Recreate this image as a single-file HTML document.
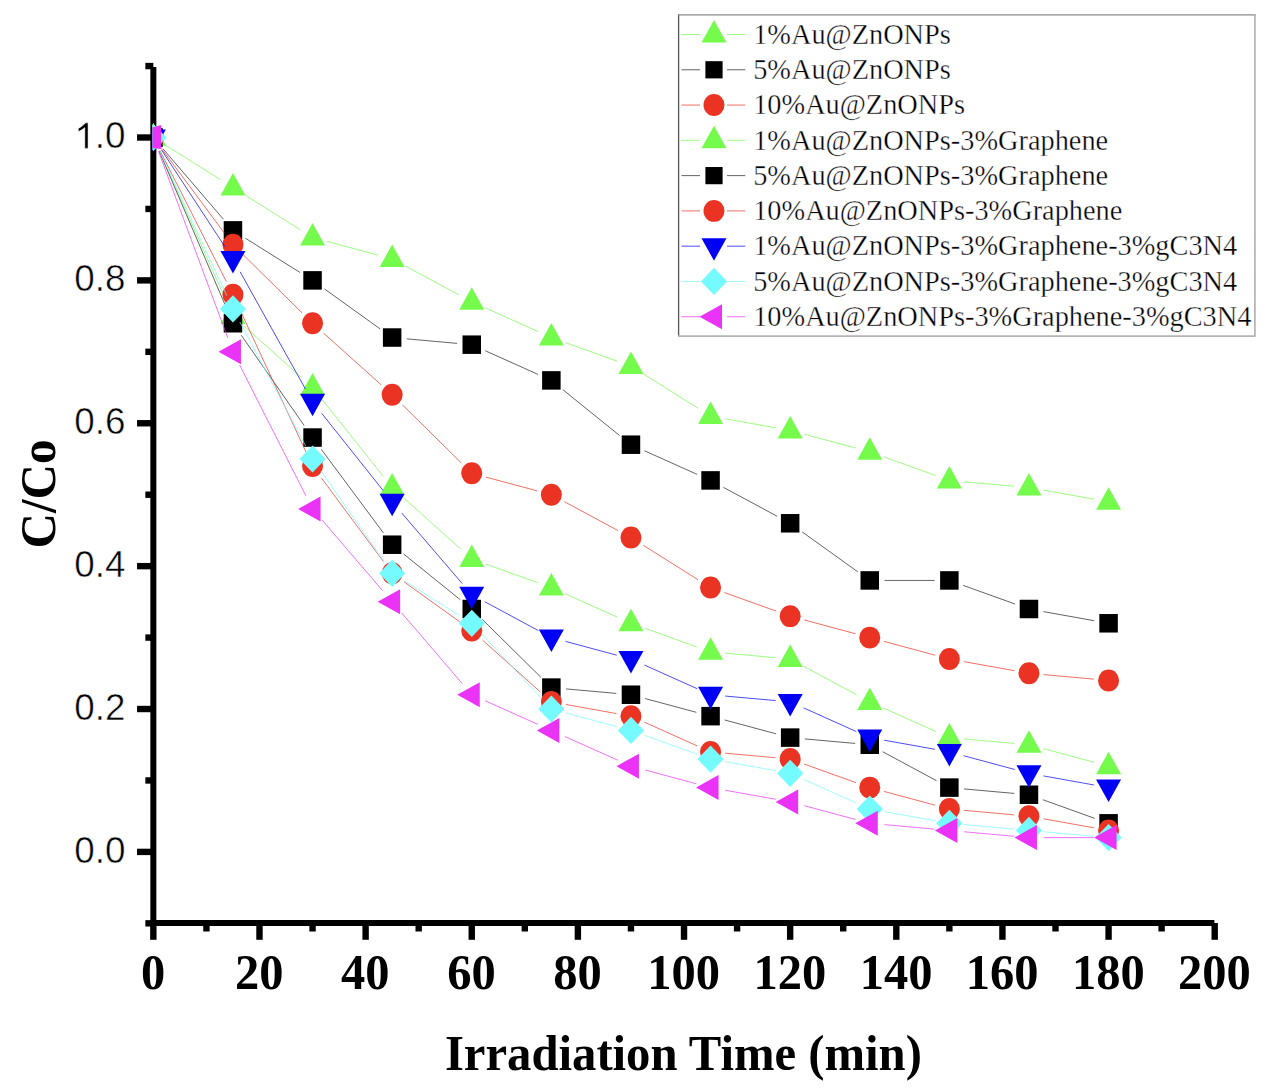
<!DOCTYPE html>
<html><head><meta charset="utf-8"><style>
html,body{margin:0;padding:0;background:#fff;}
svg{display:block;}
text{fill:#000;}
</style></head><body>
<svg width="1274" height="1090" viewBox="0 0 1274 1090">
<defs><clipPath id="clip"><rect x="152.4" y="60" width="1070" height="870"/></clipPath></defs>
<line x1="153.35" y1="67" x2="153.35" y2="926" stroke="#000" stroke-width="6"/>
<line x1="150.35" y1="923.0" x2="1214.4" y2="923.0" stroke="#000" stroke-width="6"/>
<line x1="145.35" y1="923.34" x2="153.35" y2="923.34" stroke="#000" stroke-width="6.4"/>
<line x1="137.05" y1="851.9" x2="153.35" y2="851.9" stroke="#000" stroke-width="6.4"/>
<line x1="145.35" y1="780.46" x2="153.35" y2="780.46" stroke="#000" stroke-width="6.4"/>
<line x1="137.05" y1="709.02" x2="153.35" y2="709.02" stroke="#000" stroke-width="6.4"/>
<line x1="145.35" y1="637.58" x2="153.35" y2="637.58" stroke="#000" stroke-width="6.4"/>
<line x1="137.05" y1="566.14" x2="153.35" y2="566.14" stroke="#000" stroke-width="6.4"/>
<line x1="145.35" y1="494.7" x2="153.35" y2="494.7" stroke="#000" stroke-width="6.4"/>
<line x1="137.05" y1="423.26" x2="153.35" y2="423.26" stroke="#000" stroke-width="6.4"/>
<line x1="145.35" y1="351.82" x2="153.35" y2="351.82" stroke="#000" stroke-width="6.4"/>
<line x1="137.05" y1="280.38" x2="153.35" y2="280.38" stroke="#000" stroke-width="6.4"/>
<line x1="145.35" y1="208.94" x2="153.35" y2="208.94" stroke="#000" stroke-width="6.4"/>
<line x1="137.05" y1="137.5" x2="153.35" y2="137.5" stroke="#000" stroke-width="6.4"/>
<line x1="145.35" y1="66.06" x2="153.35" y2="66.06" stroke="#000" stroke-width="6.4"/>
<line x1="153.35" y1="923.0" x2="153.35" y2="939.8" stroke="#000" stroke-width="6.4"/>
<line x1="206.42" y1="923.0" x2="206.42" y2="931.5" stroke="#000" stroke-width="6.4"/>
<line x1="259.49" y1="923.0" x2="259.49" y2="939.8" stroke="#000" stroke-width="6.4"/>
<line x1="312.55" y1="923.0" x2="312.55" y2="931.5" stroke="#000" stroke-width="6.4"/>
<line x1="365.62" y1="923.0" x2="365.62" y2="939.8" stroke="#000" stroke-width="6.4"/>
<line x1="418.69" y1="923.0" x2="418.69" y2="931.5" stroke="#000" stroke-width="6.4"/>
<line x1="471.76" y1="923.0" x2="471.76" y2="939.8" stroke="#000" stroke-width="6.4"/>
<line x1="524.82" y1="923.0" x2="524.82" y2="931.5" stroke="#000" stroke-width="6.4"/>
<line x1="577.89" y1="923.0" x2="577.89" y2="939.8" stroke="#000" stroke-width="6.4"/>
<line x1="630.96" y1="923.0" x2="630.96" y2="931.5" stroke="#000" stroke-width="6.4"/>
<line x1="684.03" y1="923.0" x2="684.03" y2="939.8" stroke="#000" stroke-width="6.4"/>
<line x1="737.09" y1="923.0" x2="737.09" y2="931.5" stroke="#000" stroke-width="6.4"/>
<line x1="790.16" y1="923.0" x2="790.16" y2="939.8" stroke="#000" stroke-width="6.4"/>
<line x1="843.23" y1="923.0" x2="843.23" y2="931.5" stroke="#000" stroke-width="6.4"/>
<line x1="896.3" y1="923.0" x2="896.3" y2="939.8" stroke="#000" stroke-width="6.4"/>
<line x1="949.36" y1="923.0" x2="949.36" y2="931.5" stroke="#000" stroke-width="6.4"/>
<line x1="1002.43" y1="923.0" x2="1002.43" y2="939.8" stroke="#000" stroke-width="6.4"/>
<line x1="1055.5" y1="923.0" x2="1055.5" y2="931.5" stroke="#000" stroke-width="6.4"/>
<line x1="1108.57" y1="923.0" x2="1108.57" y2="939.8" stroke="#000" stroke-width="6.4"/>
<line x1="1161.63" y1="923.0" x2="1161.63" y2="931.5" stroke="#000" stroke-width="6.4"/>
<line x1="1214.7" y1="923.0" x2="1214.7" y2="939.8" stroke="#000" stroke-width="6.4"/>
<text transform="translate(125.5,862.8) scale(1,1.01)" text-anchor="end" font-family="Liberation Sans" font-size="36.8" stroke="#fff" stroke-width="0.5">0.0</text>
<text transform="translate(125.5,719.92) scale(1,1.01)" text-anchor="end" font-family="Liberation Sans" font-size="36.8" stroke="#fff" stroke-width="0.5">0.2</text>
<text transform="translate(125.5,577.04) scale(1,1.01)" text-anchor="end" font-family="Liberation Sans" font-size="36.8" stroke="#fff" stroke-width="0.5">0.4</text>
<text transform="translate(125.5,434.16) scale(1,1.01)" text-anchor="end" font-family="Liberation Sans" font-size="36.8" stroke="#fff" stroke-width="0.5">0.6</text>
<text transform="translate(125.5,291.28) scale(1,1.01)" text-anchor="end" font-family="Liberation Sans" font-size="36.8" stroke="#fff" stroke-width="0.5">0.8</text>
<path transform="translate(74.34,148.4) scale(0.01797,-0.01815)" d="M763 0L583 0L583 1145C540 1104 483 1063 413 1022C343 981 280 950 223 929L223 1103C323 1150 410 1207 485 1275C560 1343 612 1387 641 1409L763 1409Z" stroke="#fff" stroke-width="27.8"/>
<text transform="translate(125.5,148.4) scale(1,1.01)" text-anchor="end" font-family="Liberation Sans" font-size="36.8" stroke="#fff" stroke-width="0.5">.0</text>
<text transform="translate(153.05,989.3) scale(1,1.06)" text-anchor="middle" font-family="Liberation Serif" font-weight="bold" font-size="48.5">0</text>
<text transform="translate(259.19,989.3) scale(1,1.06)" text-anchor="middle" font-family="Liberation Serif" font-weight="bold" font-size="48.5">20</text>
<text transform="translate(365.32,989.3) scale(1,1.06)" text-anchor="middle" font-family="Liberation Serif" font-weight="bold" font-size="48.5">40</text>
<text transform="translate(471.46,989.3) scale(1,1.06)" text-anchor="middle" font-family="Liberation Serif" font-weight="bold" font-size="48.5">60</text>
<text transform="translate(577.59,989.3) scale(1,1.06)" text-anchor="middle" font-family="Liberation Serif" font-weight="bold" font-size="48.5">80</text>
<text transform="translate(683.73,989.3) scale(1,1.06)" text-anchor="middle" font-family="Liberation Serif" font-weight="bold" font-size="48.5">100</text>
<text transform="translate(789.86,989.3) scale(1,1.06)" text-anchor="middle" font-family="Liberation Serif" font-weight="bold" font-size="48.5">120</text>
<text transform="translate(896,989.3) scale(1,1.06)" text-anchor="middle" font-family="Liberation Serif" font-weight="bold" font-size="48.5">140</text>
<text transform="translate(1002.13,989.3) scale(1,1.06)" text-anchor="middle" font-family="Liberation Serif" font-weight="bold" font-size="48.5">160</text>
<text transform="translate(1108.27,989.3) scale(1,1.06)" text-anchor="middle" font-family="Liberation Serif" font-weight="bold" font-size="48.5">180</text>
<text transform="translate(1214.4,989.3) scale(1,1.06)" text-anchor="middle" font-family="Liberation Serif" font-weight="bold" font-size="48.5">200</text>
<text transform="translate(683.4,1070) scale(1,1.03)" text-anchor="middle" font-family="Liberation Serif" font-weight="bold" font-size="48.7">Irradiation Time (min)</text>
<text transform="translate(55.3,494) rotate(-90) scale(1,1.04)" text-anchor="middle" font-family="Liberation Serif" font-weight="bold" font-size="49">C/Co</text>
<g clip-path="url(#clip)">
<path d="M165.8 145.32L220.5 179.69M245.4 195.33L300.11 229.7M326.75 241.34L377.96 255.13M405.1 265.92L458.81 294.84M485.17 307.83L537.94 331.51M565.19 342.5L617.12 361.14M643.4 373.93L698.11 408.3M725.03 418.71L775.69 427.81M804.35 434.23L855.57 448.01M883.6 456.8L935.53 475.45M964 481.73L1014.32 486.24M1043.43 490.15L1094.1 499.25" stroke="#75FB4C" stroke-width="1.0" stroke-opacity="0.7" fill="none"/>
<path d="M153.35 123L165.85 145.5L140.85 145.5Z" fill="#75FB4C"/>
<path d="M232.95 173.01L245.45 195.51L220.45 195.51Z" fill="#75FB4C"/>
<path d="M312.55 223.02L325.05 245.52L300.05 245.52Z" fill="#75FB4C"/>
<path d="M392.15 244.45L404.65 266.95L379.65 266.95Z" fill="#75FB4C"/>
<path d="M471.76 287.31L484.26 309.81L459.26 309.81Z" fill="#75FB4C"/>
<path d="M551.36 323.03L563.86 345.53L538.86 345.53Z" fill="#75FB4C"/>
<path d="M630.96 351.61L643.46 374.11L618.46 374.11Z" fill="#75FB4C"/>
<path d="M710.56 401.62L723.06 424.12L698.06 424.12Z" fill="#75FB4C"/>
<path d="M790.16 415.9L802.66 438.4L777.66 438.4Z" fill="#75FB4C"/>
<path d="M869.76 437.34L882.26 459.84L857.26 459.84Z" fill="#75FB4C"/>
<path d="M949.36 465.91L961.86 488.41L936.86 488.41Z" fill="#75FB4C"/>
<path d="M1028.96 473.06L1041.46 495.56L1016.46 495.56Z" fill="#75FB4C"/>
<path d="M1108.57 487.34L1121.07 509.84L1096.07 509.84Z" fill="#75FB4C"/>
<path d="M162.92 148.66L223.38 219.21M245.4 238.19L300.11 272.56M324.49 288.95L380.21 328.96M406.79 338.85L457.11 343.36M485.17 350.69L537.94 374.38M562.79 389.63L619.52 435.46M644.37 450.71L697.15 474.39M723.5 487.38L777.22 516.31M802.1 531.85L857.82 571.85M884.46 580.43L934.66 580.43M963.2 585.39L1015.13 604.04M1043.43 611.6L1094.1 620.69" stroke="#222" stroke-width="1.0" stroke-opacity="0.7" fill="none"/>
<rect x="144.1" y="128.25" width="18.5" height="18.5" fill="#000000"/>
<rect x="223.7" y="221.12" width="18.5" height="18.5" fill="#000000"/>
<rect x="303.3" y="271.13" width="18.5" height="18.5" fill="#000000"/>
<rect x="382.9" y="328.28" width="18.5" height="18.5" fill="#000000"/>
<rect x="462.51" y="335.43" width="18.5" height="18.5" fill="#000000"/>
<rect x="542.11" y="371.15" width="18.5" height="18.5" fill="#000000"/>
<rect x="621.71" y="435.44" width="18.5" height="18.5" fill="#000000"/>
<rect x="701.31" y="471.16" width="18.5" height="18.5" fill="#000000"/>
<rect x="780.91" y="514.03" width="18.5" height="18.5" fill="#000000"/>
<rect x="860.51" y="571.18" width="18.5" height="18.5" fill="#000000"/>
<rect x="940.11" y="571.18" width="18.5" height="18.5" fill="#000000"/>
<rect x="1019.71" y="599.75" width="18.5" height="18.5" fill="#000000"/>
<rect x="1099.32" y="614.04" width="18.5" height="18.5" fill="#000000"/>
<path d="M162.12 149.3L224.19 232.86M243.41 254.99L302.09 312.92M323.49 333.06L381.21 384.87M402.61 405.01L461.29 462.94M485.95 477.09L537.16 490.88M564.3 501.67L618.01 530.59M643.4 545.38L698.11 579.75M724.39 592.54L776.32 611.18M804.35 619.97L855.57 633.76M883.96 641.4L935.17 655.19M963.83 661.61L1014.49 670.7M1043.6 674.61L1093.92 679.13" stroke="#EA3323" stroke-width="1.0" stroke-opacity="0.7" fill="none"/>
<ellipse cx="153.35" cy="137.5" rx="10.5" ry="10.95" fill="#EA3323"/>
<ellipse cx="232.95" cy="244.66" rx="10.5" ry="10.95" fill="#EA3323"/>
<ellipse cx="312.55" cy="323.24" rx="10.5" ry="10.95" fill="#EA3323"/>
<ellipse cx="392.15" cy="394.68" rx="10.5" ry="10.95" fill="#EA3323"/>
<ellipse cx="471.76" cy="473.27" rx="10.5" ry="10.95" fill="#EA3323"/>
<ellipse cx="551.36" cy="494.7" rx="10.5" ry="10.95" fill="#EA3323"/>
<ellipse cx="630.96" cy="537.56" rx="10.5" ry="10.95" fill="#EA3323"/>
<ellipse cx="710.56" cy="587.57" rx="10.5" ry="10.95" fill="#EA3323"/>
<ellipse cx="790.16" cy="616.15" rx="10.5" ry="10.95" fill="#EA3323"/>
<ellipse cx="869.76" cy="637.58" rx="10.5" ry="10.95" fill="#EA3323"/>
<ellipse cx="949.36" cy="659.01" rx="10.5" ry="10.95" fill="#EA3323"/>
<ellipse cx="1028.96" cy="673.3" rx="10.5" ry="10.95" fill="#EA3323"/>
<ellipse cx="1108.57" cy="680.44" rx="10.5" ry="10.95" fill="#EA3323"/>
<path d="M159.33 150.93L226.97 302.67M243.89 325.92L301.61 377.72M321.71 399.04L383 476.05M403.09 497.37L460.81 549.18M485.59 563.96L537.52 582.61M564.77 593.59L617.55 617.27M644.79 628.26L696.72 646.9M725.2 653.18L775.52 657.7M803.1 665.98L856.82 694.91M883.17 707.89L935.95 731.58M964 738.91L1014.32 743.43M1043.16 748.56L1094.37 762.35" stroke="#75FB4C" stroke-width="1.0" stroke-opacity="0.7" fill="none"/>
<path d="M153.35 123L165.85 145.5L140.85 145.5Z" fill="#75FB4C"/>
<path d="M232.95 301.6L245.45 324.1L220.45 324.1Z" fill="#75FB4C"/>
<path d="M312.55 373.04L325.05 395.54L300.05 395.54Z" fill="#75FB4C"/>
<path d="M392.15 473.06L404.65 495.56L379.65 495.56Z" fill="#75FB4C"/>
<path d="M471.76 544.5L484.26 567L459.26 567Z" fill="#75FB4C"/>
<path d="M551.36 573.07L563.86 595.57L538.86 595.57Z" fill="#75FB4C"/>
<path d="M630.96 608.79L643.46 631.29L618.46 631.29Z" fill="#75FB4C"/>
<path d="M710.56 637.37L723.06 659.87L698.06 659.87Z" fill="#75FB4C"/>
<path d="M790.16 644.51L802.66 667.01L777.66 667.01Z" fill="#75FB4C"/>
<path d="M869.76 687.38L882.26 709.88L857.26 709.88Z" fill="#75FB4C"/>
<path d="M949.36 723.1L961.86 745.6L936.86 745.6Z" fill="#75FB4C"/>
<path d="M1028.96 730.24L1041.46 752.74L1016.46 752.74Z" fill="#75FB4C"/>
<path d="M1108.57 751.67L1121.07 774.17L1096.07 774.17Z" fill="#75FB4C"/>
<path d="M159.14 151.01L227.16 309.73M241.35 335.31L304.15 425.48M321.32 449.35L383.39 532.91M403.59 553.94L460.32 599.77M482.22 619.33L540.9 677.26M566 688.9L616.32 693.42M645.15 698.55L696.36 712.34M724.75 719.99L775.97 733.77M804.8 738.91L855.12 743.43M882.7 751.71L936.42 780.63M964 788.92L1014.32 793.43M1042.8 799.71L1094.73 818.36" stroke="#222" stroke-width="1.0" stroke-opacity="0.7" fill="none"/>
<rect x="144.1" y="128.25" width="18.5" height="18.5" fill="#000000"/>
<rect x="223.7" y="313.99" width="18.5" height="18.5" fill="#000000"/>
<rect x="303.3" y="428.3" width="18.5" height="18.5" fill="#000000"/>
<rect x="382.9" y="535.46" width="18.5" height="18.5" fill="#000000"/>
<rect x="462.51" y="599.75" width="18.5" height="18.5" fill="#000000"/>
<rect x="542.11" y="678.34" width="18.5" height="18.5" fill="#000000"/>
<rect x="621.71" y="685.48" width="18.5" height="18.5" fill="#000000"/>
<rect x="701.31" y="706.91" width="18.5" height="18.5" fill="#000000"/>
<rect x="780.91" y="728.35" width="18.5" height="18.5" fill="#000000"/>
<rect x="860.51" y="735.49" width="18.5" height="18.5" fill="#000000"/>
<rect x="940.11" y="778.35" width="18.5" height="18.5" fill="#000000"/>
<rect x="1019.71" y="785.5" width="18.5" height="18.5" fill="#000000"/>
<rect x="1099.32" y="814.07" width="18.5" height="18.5" fill="#000000"/>
<path d="M159.99 150.61L226.31 281.55M239.14 308L306.36 452.79M321.32 477.92L383.39 561.48M404.09 581.86L459.81 621.86M482.7 640.25L540.42 692.06M565.83 704.47L616.49 713.57M644.37 722.18L697.15 745.87M725.2 753.2L775.52 757.71M804 763.99L855.93 782.64M883.96 791.43L935.17 805.21M964 810.35L1014.32 814.87M1043.43 818.78L1094.1 827.87" stroke="#EA3323" stroke-width="1.0" stroke-opacity="0.7" fill="none"/>
<ellipse cx="153.35" cy="137.5" rx="10.5" ry="10.95" fill="#EA3323"/>
<ellipse cx="232.95" cy="294.67" rx="10.5" ry="10.95" fill="#EA3323"/>
<ellipse cx="312.55" cy="466.12" rx="10.5" ry="10.95" fill="#EA3323"/>
<ellipse cx="392.15" cy="573.28" rx="10.5" ry="10.95" fill="#EA3323"/>
<ellipse cx="471.76" cy="630.44" rx="10.5" ry="10.95" fill="#EA3323"/>
<ellipse cx="551.36" cy="701.88" rx="10.5" ry="10.95" fill="#EA3323"/>
<ellipse cx="630.96" cy="716.16" rx="10.5" ry="10.95" fill="#EA3323"/>
<ellipse cx="710.56" cy="751.88" rx="10.5" ry="10.95" fill="#EA3323"/>
<ellipse cx="790.16" cy="759.03" rx="10.5" ry="10.95" fill="#EA3323"/>
<ellipse cx="869.76" cy="787.6" rx="10.5" ry="10.95" fill="#EA3323"/>
<ellipse cx="949.36" cy="809.04" rx="10.5" ry="10.95" fill="#EA3323"/>
<ellipse cx="1028.96" cy="816.18" rx="10.5" ry="10.95" fill="#EA3323"/>
<ellipse cx="1108.57" cy="830.47" rx="10.5" ry="10.95" fill="#EA3323"/>
<path d="M161.41 149.79L224.89 246.65M240.11 271.79L305.4 388.99M321.71 413.33L383 490.34M401.72 513.01L462.19 583.55M484.7 601.69L538.41 630.61M565.55 641.4L616.76 655.19M644.37 665.03L697.15 688.71M725.2 696.05L775.52 700.56M803.57 707.89L856.35 731.58M884.23 740.19L934.89 749.29M963.56 755.71L1014.77 769.49M1043.43 775.91L1094.1 785.01" stroke="#0000F5" stroke-width="1.0" stroke-opacity="0.7" fill="none"/>
<path d="M153.35 152L165.85 129.5L140.85 129.5Z" fill="#0000F5"/>
<path d="M232.95 273.45L245.45 250.95L220.45 250.95Z" fill="#0000F5"/>
<path d="M312.55 416.33L325.05 393.83L300.05 393.83Z" fill="#0000F5"/>
<path d="M392.15 516.34L404.65 493.84L379.65 493.84Z" fill="#0000F5"/>
<path d="M471.76 609.22L484.26 586.72L459.26 586.72Z" fill="#0000F5"/>
<path d="M551.36 652.08L563.86 629.58L538.86 629.58Z" fill="#0000F5"/>
<path d="M630.96 673.51L643.46 651.01L618.46 651.01Z" fill="#0000F5"/>
<path d="M710.56 709.23L723.06 686.73L698.06 686.73Z" fill="#0000F5"/>
<path d="M790.16 716.38L802.66 693.88L777.66 693.88Z" fill="#0000F5"/>
<path d="M869.76 752.1L882.26 729.6L857.26 729.6Z" fill="#0000F5"/>
<path d="M949.36 766.38L961.86 743.88L936.86 743.88Z" fill="#0000F5"/>
<path d="M1028.96 787.82L1041.46 765.32L1016.46 765.32Z" fill="#0000F5"/>
<path d="M1108.57 802.1L1121.07 779.6L1096.07 779.6Z" fill="#0000F5"/>
<path d="M159.54 150.83L226.76 295.62M239.84 321.94L305.66 445.99M320.95 471.04L383.75 561.22M404.6 581.1L459.31 615.47M481.76 634.06L541.35 698.25M565.55 712.84L616.76 726.63M644.79 735.42L696.72 754.06M725.03 761.63L775.69 770.72M803.57 779.33L856.35 803.02M884.23 811.63L934.89 820.73M964 824.64L1014.32 829.15M1043.6 831.78L1093.92 836.3" stroke="#75FBFD" stroke-width="1.0" stroke-opacity="0.7" fill="none"/>
<path d="M153.35 123.9L166.45 137.5L153.35 151.1L140.25 137.5Z" fill="#75FBFD"/>
<path d="M232.95 295.36L246.05 308.96L232.95 322.56L219.85 308.96Z" fill="#75FBFD"/>
<path d="M312.55 445.38L325.65 458.98L312.55 472.58L299.45 458.98Z" fill="#75FBFD"/>
<path d="M392.15 559.68L405.25 573.28L392.15 586.88L379.05 573.28Z" fill="#75FBFD"/>
<path d="M471.76 609.69L484.86 623.29L471.76 636.89L458.66 623.29Z" fill="#75FBFD"/>
<path d="M551.36 695.42L564.46 709.02L551.36 722.62L538.26 709.02Z" fill="#75FBFD"/>
<path d="M630.96 716.85L644.06 730.45L630.96 744.05L617.86 730.45Z" fill="#75FBFD"/>
<path d="M710.56 745.43L723.66 759.03L710.56 772.63L697.46 759.03Z" fill="#75FBFD"/>
<path d="M790.16 759.72L803.26 773.32L790.16 786.92L777.06 773.32Z" fill="#75FBFD"/>
<path d="M869.76 795.44L882.86 809.04L869.76 822.64L856.66 809.04Z" fill="#75FBFD"/>
<path d="M949.36 809.72L962.46 823.32L949.36 836.92L936.26 823.32Z" fill="#75FBFD"/>
<path d="M1028.96 816.87L1042.06 830.47L1028.96 844.07L1015.86 830.47Z" fill="#75FBFD"/>
<path d="M1108.57 824.01L1121.66 837.61L1108.57 851.21L1095.47 837.61Z" fill="#75FBFD"/>
<path d="M158.47 151.28L227.83 338.04M239.59 364.93L305.91 495.87M322.12 520.15L382.59 590.7M401.72 613.02L462.19 683.57M485.17 700.75L537.94 724.43M564.77 736.47L617.55 760.15M645.15 769.99L696.36 783.78M725.03 790.2L775.69 799.29M804.35 805.71L855.57 819.5M884.4 824.64L934.72 829.15M964 831.78L1014.32 836.3M1043.66 837.61L1093.87 837.61" stroke="#EA33F7" stroke-width="1.0" stroke-opacity="0.7" fill="none"/>
<path d="M152.4 127.6L161.2 125.1L161.2 148.9L152.4 148.1Z" fill="#EA33F7"/>
<path d="M218.45 351.82L240.95 339.32L240.95 364.32Z" fill="#EA33F7"/>
<path d="M298.05 508.99L320.55 496.49L320.55 521.49Z" fill="#EA33F7"/>
<path d="M377.65 601.86L400.15 589.36L400.15 614.36Z" fill="#EA33F7"/>
<path d="M457.26 694.73L479.76 682.23L479.76 707.23Z" fill="#EA33F7"/>
<path d="M536.86 730.45L559.36 717.95L559.36 742.95Z" fill="#EA33F7"/>
<path d="M616.46 766.17L638.96 753.67L638.96 778.67Z" fill="#EA33F7"/>
<path d="M696.06 787.6L718.56 775.1L718.56 800.1Z" fill="#EA33F7"/>
<path d="M775.66 801.89L798.16 789.39L798.16 814.39Z" fill="#EA33F7"/>
<path d="M855.26 823.32L877.76 810.82L877.76 835.82Z" fill="#EA33F7"/>
<path d="M934.86 830.47L957.36 817.97L957.36 842.97Z" fill="#EA33F7"/>
<path d="M1014.46 837.61L1036.96 825.11L1036.96 850.11Z" fill="#EA33F7"/>
<path d="M1094.07 837.61L1116.57 825.11L1116.57 850.11Z" fill="#EA33F7"/>
</g>
<path d="M678.6 14.2V336.6" stroke="#555" stroke-width="1.3"/>
<path d="M678 14.85H1255.5" stroke="#8a8a8a" stroke-width="1.4"/>
<path d="M1254.9 14.2V336.6" stroke="#a8a8a8" stroke-width="1.5"/>
<path d="M678 336.05H1255.5" stroke="#b4b4b4" stroke-width="1.8"/>
<path d="M681.5 34.5H700M727 34.5H745.3" stroke="#75FB4C" stroke-width="1" stroke-opacity="0.7"/>
<path d="M714 20L726.5 42.5L701.5 42.5Z" fill="#75FB4C"/>
<text transform="translate(753.2,43.7) scale(1,1.05)" font-family="Liberation Serif" font-size="28.35" stroke="#fff" stroke-width="0.35">1%Au@ZnONPs</text>
<path d="M681.5 69.78H700M727 69.78H745.3" stroke="#222" stroke-width="1" stroke-opacity="0.7"/>
<rect x="705.4" y="61.18" width="17.21" height="17.21" fill="#000000"/>
<text transform="translate(753.2,78.98) scale(1,1.05)" font-family="Liberation Serif" font-size="28.35" stroke="#fff" stroke-width="0.35">5%Au@ZnONPs</text>
<path d="M681.5 105.06H700M727 105.06H745.3" stroke="#EA3323" stroke-width="1" stroke-opacity="0.7"/>
<ellipse cx="714" cy="105.06" rx="10.5" ry="10.95" fill="#EA3323"/>
<text transform="translate(753.2,114.26) scale(1,1.05)" font-family="Liberation Serif" font-size="28.35" stroke="#fff" stroke-width="0.35">10%Au@ZnONPs</text>
<path d="M681.5 140.34H700M727 140.34H745.3" stroke="#75FB4C" stroke-width="1" stroke-opacity="0.7"/>
<path d="M714 125.84L726.5 148.34L701.5 148.34Z" fill="#75FB4C"/>
<text transform="translate(753.2,149.54) scale(1,1.05)" font-family="Liberation Serif" font-size="28.35" stroke="#fff" stroke-width="0.35">1%Au@ZnONPs-3%Graphene</text>
<path d="M681.5 175.62H700M727 175.62H745.3" stroke="#222" stroke-width="1" stroke-opacity="0.7"/>
<rect x="705.4" y="167.02" width="17.21" height="17.21" fill="#000000"/>
<text transform="translate(753.2,184.82) scale(1,1.05)" font-family="Liberation Serif" font-size="28.35" stroke="#fff" stroke-width="0.35">5%Au@ZnONPs-3%Graphene</text>
<path d="M681.5 210.9H700M727 210.9H745.3" stroke="#EA3323" stroke-width="1" stroke-opacity="0.7"/>
<ellipse cx="714" cy="210.9" rx="10.5" ry="10.95" fill="#EA3323"/>
<text transform="translate(753.2,220.1) scale(1,1.05)" font-family="Liberation Serif" font-size="28.35" stroke="#fff" stroke-width="0.35">10%Au@ZnONPs-3%Graphene</text>
<path d="M681.5 246.18H700M727 246.18H745.3" stroke="#0000F5" stroke-width="1" stroke-opacity="0.7"/>
<path d="M714 260.68L726.5 238.18L701.5 238.18Z" fill="#0000F5"/>
<text transform="translate(753.2,255.38) scale(1,1.05)" font-family="Liberation Serif" font-size="28.35" stroke="#fff" stroke-width="0.35">1%Au@ZnONPs-3%Graphene-3%gC3N4</text>
<path d="M681.5 281.46H700M727 281.46H745.3" stroke="#75FBFD" stroke-width="1" stroke-opacity="0.7"/>
<path d="M714 267.86L727.1 281.46L714 295.06L700.9 281.46Z" fill="#75FBFD"/>
<text transform="translate(753.2,290.66) scale(1,1.05)" font-family="Liberation Serif" font-size="28.35" stroke="#fff" stroke-width="0.35">5%Au@ZnONPs-3%Graphene-3%gC3N4</text>
<path d="M681.5 316.74H700M727 316.74H745.3" stroke="#EA33F7" stroke-width="1" stroke-opacity="0.7"/>
<path d="M699.5 316.74L722 304.24L722 329.24Z" fill="#EA33F7"/>
<text transform="translate(753.2,325.94) scale(1,1.05)" font-family="Liberation Serif" font-size="28.35" stroke="#fff" stroke-width="0.35">10%Au@ZnONPs-3%Graphene-3%gC3N4</text>
</svg>
</body></html>
